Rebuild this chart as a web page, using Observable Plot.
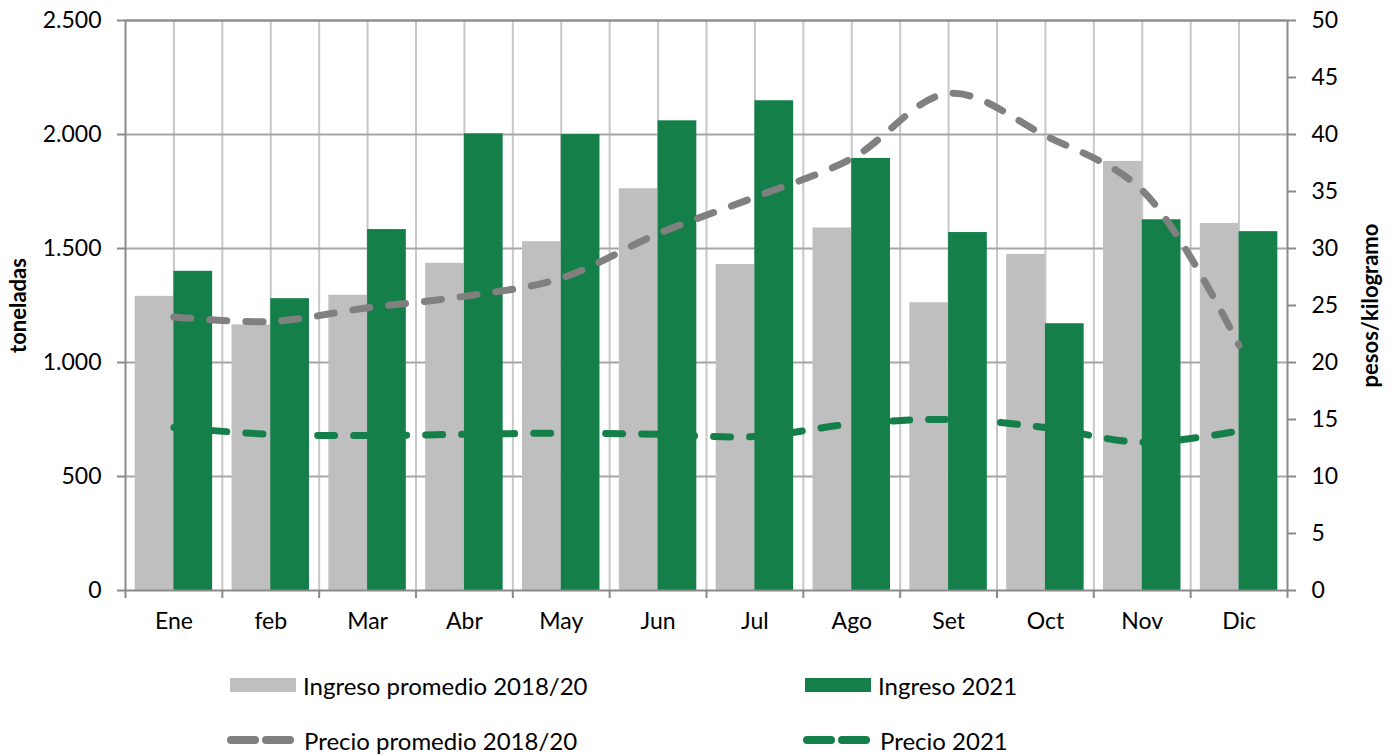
<!DOCTYPE html>
<html>
<head>
<meta charset="utf-8">
<script src="https://cdn.jsdelivr.net/npm/d3@7"></script>
<script src="https://cdn.jsdelivr.net/npm/@observablehq/plot@0.6"></script>
<style>
  body { margin: 0; background: #fff; font-family: Lato, sans-serif; }
  #legend { position: relative; width: 1392px; height: 106px; font-size: 24px; color: #000; }
  .item { position: absolute; display: flex; align-items: center; height: 30px; }
  .item svg { display: block; margin-right: 7px; }
</style>
</head>
<body>
<div id="chart"></div>
<div id="legend"></div>
<script>
const months = ["Ene","feb","Mar","Abr","May","Jun","Jul","Ago","Set","Oct","Nov","Dic"];
const ingresoPromedio = [1290,1165,1295,1435,1530,1762,1430,1590,1262,1474,1882,1610];
const ingreso2021 = [1400,1280,1583,2003,2000,2060,2148,1895,1570,1170,1626,1574];
const precioPromedio = [24.0,23.6,24.8,25.8,27.4,31.3,34.5,37.9,43.6,39.9,35.1,21.5];
const precio2021 = [14.3,13.7,13.6,13.7,13.8,13.7,13.5,14.6,15.0,14.3,13.0,14.0];
const leftTicks = [0,500,1000,1500,2000,2500];
const rightTicks = [0,5,10,15,20,25,30,35,40,45,50];
const seriesNames = ["Ingreso promedio 2018/20","Ingreso 2021","Precio promedio 2018/20","Precio 2021"];

const GRAY_BAR = "#bfbfbf", GREEN = "#157f4a", GRAY_LINE = "#808080";
const ratio = 2500 / 50; // right axis -> left axis units

const data = months.map((m, i) => ({
  month: m,
  prom: ingresoPromedio[i],
  y2021: ingreso2021[i],
  pProm: precioPromedio[i] * ratio,
  p2021: precio2021[i] * ratio
}));

const W = 1392, H = 650, mL = 125, mR = 105, mT = 20, mB = 60;
const bw = (W - mL - mR) / months.length;
const half = bw / 2, gap = bw * 0.1;

const loc = d3.formatLocale({decimal: ",", thousands: ".", grouping: [3], currency: ["", ""]});
const fmt = loc.format(",");

const chart = Plot.plot({
  width: W, height: H,
  marginLeft: mL, marginRight: mR, marginTop: mT, marginBottom: mB,
  style: {fontFamily: "Lato, sans-serif", fontSize: "23px", color: "#000", background: "#fff"},
  x: {type: "band", domain: months, padding: 0, round: false},
  y: {domain: [0, 2500]},
  marks: [
    // vertical grid: band centers and boundaries
    Plot.ruleX(months, {x: d => d, stroke: "#c8c8c8", strokeWidth: 2}),
    Plot.ruleX(months.slice(1), {x: d => d, dx: -half, stroke: "#c8c8c8", strokeWidth: 2}),
    Plot.ruleY(leftTicks.slice(1), {stroke: "#a6a6a6", strokeWidth: 2}),
    // bars
    Plot.barY(data, {x: "month", y: "prom", fill: GRAY_BAR, insetLeft: gap, insetRight: half}),
    Plot.barY(data, {x: "month", y: "y2021", fill: GREEN, insetLeft: half, insetRight: gap}),
    // lines
    Plot.line(data, {x: "month", y: "pProm", stroke: GRAY_LINE, strokeWidth: 7, strokeDasharray: "17,19", strokeLinecap: "round", curve: "catmull-rom"}),
    Plot.line(data, {x: "month", y: "p2021", stroke: GREEN, strokeWidth: 7, strokeDasharray: "17,19", strokeLinecap: "round", curve: "catmull-rom"}),
    // frame / axis lines
    Plot.frame({stroke: "#8a8a8a", strokeWidth: 2}),
    // x boundary ticks
    Plot.ruleX(months, {x: d => d, dx: -half, y1: 0, y2: 0, insetBottom: -8, stroke: "#8a8a8a", strokeWidth: 2}),
    Plot.ruleX([months[months.length - 1]], {x: d => d, dx: half, y1: 0, y2: 0, insetBottom: -8, stroke: "#8a8a8a", strokeWidth: 2}),
    Plot.axisX({tickSize: 0, tickPadding: 22, fontSize: 23, label: null}),
    Plot.axisY({anchor: "left", ticks: leftTicks, tickFormat: fmt, tickSize: 8, tickPadding: 16, stroke: "#8a8a8a", strokeWidth: 2, fontSize: 23, label: null}),
    Plot.axisY({anchor: "right", ticks: rightTicks.map(v => v * ratio), tickFormat: d => d / ratio, tickSize: 8, tickPadding: 16, stroke: "#8a8a8a", strokeWidth: 2, fontSize: 23, label: null}),
    Plot.text(["toneladas"], {frameAnchor: "left", textAnchor: "middle", dx: -107, rotate: -90, fontWeight: "bold", fontSize: 22, text: d => d}),
    Plot.text(["pesos/kilogramo"], {frameAnchor: "right", textAnchor: "middle", dx: 83, rotate: -90, fontWeight: "bold", fontSize: 22, text: d => d})
  ]
});
document.getElementById("chart").appendChild(chart);

// legend
const legend = document.getElementById("legend");
const items = [
  {name: seriesNames[0], type: "rect", color: GRAY_BAR, left: 230, top: 20},
  {name: seriesNames[1], type: "rect", color: GREEN, left: 805, top: 20},
  {name: seriesNames[2], type: "line", color: GRAY_LINE, left: 227, top: 75},
  {name: seriesNames[3], type: "line", color: GREEN, left: 803, top: 75}
];
for (const it of items) {
  const div = document.createElement("div");
  div.className = "item";
  div.style.left = it.left + "px";
  div.style.top = it.top + "px";
  const sw = it.type === "rect"
    ? `<svg width="66" height="16"><rect x="0" y="1" width="66" height="14" fill="${it.color}"/></svg>`
    : `<svg width="70" height="16"><line x1="4" x2="63" y1="8" y2="8" stroke="${it.color}" stroke-width="8" stroke-linecap="round" stroke-dasharray="24,11"/></svg>`;
  div.innerHTML = sw + `<span>${it.name}</span>`;
  legend.appendChild(div);
}
</script>
</body>
</html>
